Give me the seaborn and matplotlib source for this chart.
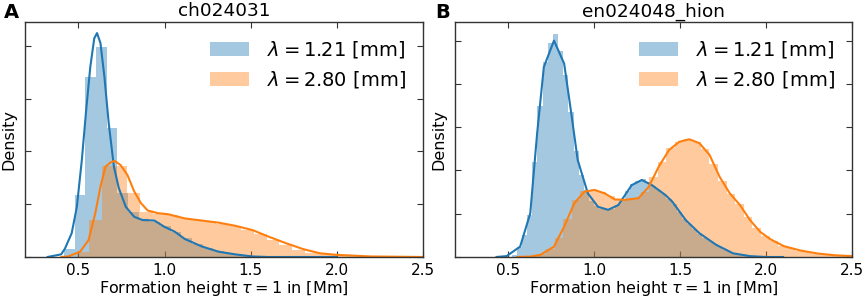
import numpy as np
import pandas as pd
import matplotlib
matplotlib.use("Agg")
import matplotlib.pyplot as plt
from matplotlib.patches import Patch
import seaborn as sns

# ---------------- data ----------------
titles = ["ch024031", "en024048_hion"]
panel_letters = ["A", "B"]
labels = [r"$\lambda = 1.21$ [mm]", r"$\lambda = 2.80$ [mm]"]

# Panel A histograms (bin start, bin width, bar heights)
a_blue_start, a_blue_width = 0.416, 0.062
a_blue_hist = [0.16, 1.17, 3.40, 3.98, 2.44, 1.21, 0.86, 0.72, 0.66, 0.58,
               0.48, 0.36, 0.25, 0.17, 0.11, 0.07, 0.04, 0.02, 0.01]
a_orange_start, a_orange_width = 0.49, 0.0735
a_orange_hist = [0.09, 0.70, 1.73, 1.73, 1.21, 0.86, 0.82, 0.80, 0.74, 0.70,
                 0.67, 0.63, 0.58, 0.52, 0.44, 0.32, 0.22, 0.14, 0.08, 0.05,
                 0.03, 0.02, 0.01, 0.01, 0.005, 0.005, 0.003]

# Panel A KDE curves
a_blue_kde_x = [0.32, 0.40, 0.422, 0.461, 0.491, 0.52, 0.545, 0.569, 0.592, 0.608,
                0.628, 0.651, 0.676, 0.706, 0.735, 0.775, 0.824, 0.873, 0.941, 1.0,
                1.059, 1.118, 1.216, 1.314, 1.41, 1.51, 1.6, 1.8, 2.0]
a_blue_kde_y = [0.0, 0.05, 0.16, 0.45, 0.95, 1.84, 2.78, 3.60, 4.14, 4.24,
                4.05, 3.41, 2.53, 1.71, 1.30, 0.95, 0.76, 0.70, 0.69, 0.57,
                0.48, 0.34, 0.20, 0.10, 0.05, 0.01, 0.0, 0.0, 0.0]
a_orange_kde_x = [0.40, 0.44, 0.51, 0.559, 0.598, 0.628, 0.657, 0.686, 0.71, 0.745,
                  0.785, 0.824, 0.863, 0.902, 0.961, 1.02, 1.118, 1.216, 1.314, 1.412,
                  1.51, 1.608, 1.706, 1.804, 1.902, 2.0, 2.2, 2.5]
a_orange_kde_y = [0.0, 0.01, 0.10, 0.32, 0.83, 1.33, 1.71, 1.79, 1.82, 1.74,
                  1.55, 1.24, 1.02, 0.88, 0.83, 0.81, 0.73, 0.69, 0.65, 0.59,
                  0.51, 0.38, 0.26, 0.15, 0.07, 0.04, 0.01, 0.0]

# Panel B histograms
b_blue_start, b_blue_width = 0.52, 0.03
b_blue_hist = [0.05, 0.22, 0.50, 0.98, 2.20, 3.50, 4.50, 4.95, 5.16, 4.75,
               4.20, 3.35, 2.45, 1.90, 1.55, 1.30, 1.18, 1.12, 1.08, 1.12,
               1.20, 1.35, 1.52, 1.68, 1.76, 1.80, 1.74, 1.64, 1.55, 1.45,
               1.35, 1.22, 1.05, 0.88, 0.76, 0.64, 0.54, 0.45, 0.37, 0.29,
               0.22, 0.16, 0.11, 0.07, 0.05, 0.03, 0.02, 0.01]
b_orange_start, b_orange_width = 0.62, 0.05
b_orange_hist = [0.02, 0.07, 0.18, 0.45, 0.88, 1.32, 1.52, 1.55, 1.50, 1.40,
                 1.32, 1.32, 1.36, 1.50, 1.85, 2.20, 2.52, 2.66, 2.72, 2.66,
                 2.50, 2.15, 1.75, 1.45, 1.22, 0.92, 0.66, 0.48, 0.36, 0.26,
                 0.20, 0.15, 0.11, 0.08, 0.06, 0.04, 0.03, 0.02]

# Panel B KDE curves
b_blue_kde_x = [0.43, 0.49, 0.569, 0.628, 0.668, 0.707, 0.766, 0.825, 0.864, 0.904,
                0.963, 1.022, 1.081, 1.14, 1.218, 1.277, 1.336, 1.415, 1.454, 1.533,
                1.612, 1.71, 1.808, 1.907, 2.0, 2.1]
b_blue_kde_y = [0.0, 0.02, 0.24, 1.01, 2.86, 4.39, 5.00, 4.47, 3.39, 2.24,
                1.47, 1.16, 1.09, 1.20, 1.66, 1.78, 1.66, 1.43, 1.28, 0.85,
                0.55, 0.28, 0.085, 0.02, 0.0, 0.0]
b_orange_kde_x = [0.55, 0.628, 0.687, 0.766, 0.825, 0.884, 0.943, 1.002, 1.061, 1.12,
                  1.179, 1.258, 1.317, 1.376, 1.435, 1.494, 1.553, 1.612, 1.671, 1.73,
                  1.789, 1.848, 1.907, 1.966, 2.025, 2.104, 2.2, 2.3, 2.4, 2.5]
b_orange_kde_y = [0.0, 0.01, 0.05, 0.24, 0.70, 1.24, 1.51, 1.55, 1.47, 1.33,
                  1.32, 1.36, 1.62, 2.09, 2.47, 2.66, 2.72, 2.63, 2.36, 1.85,
                  1.47, 1.20, 0.85, 0.58, 0.41, 0.25, 0.15, 0.08, 0.04, 0.02]

x_ticks = [0.5, 1.0, 1.5, 2.0, 2.5]
x_limits = (0.19, 2.5)
y_tops = [4.45, 5.43]
y_ticks = [[0, 1, 2, 3, 4], [0, 1, 2, 3, 4, 5]]

# ---------------- style ----------------
sns.set_style("ticks")
plt.rcParams.update({
    "font.family": ["DejaVu Sans"],
    "font.size": 11,
    "text.color": "black",
    "axes.labelcolor": "black",
    "axes.titlecolor": "black",
    "xtick.direction": "in",
    "ytick.direction": "in",
    "xtick.top": True,
    "ytick.right": True,
    "xtick.major.size": 4,
    "ytick.major.size": 4,
    "axes.edgecolor": "#333333",
    "xtick.color": "#333333",
    "ytick.color": "#333333",
    "xtick.labelcolor": "black",
    "axes.linewidth": 1.0,
    "mathtext.fontset": "dejavusans",
})

blue = "#1f77b4"
orange = "#ff7f0e"

fig = plt.figure(figsize=(8.65, 2.98), dpi=100)
ax_a = fig.add_axes([0.0289, 0.1376, 0.4601, 0.7886])
ax_b = fig.add_axes([0.526, 0.1376, 0.459, 0.7886])

panels = [
    (ax_a, (a_blue_start, a_blue_width, a_blue_hist), (a_orange_start, a_orange_width, a_orange_hist),
     (a_blue_kde_x, a_blue_kde_y), (a_orange_kde_x, a_orange_kde_y)),
    (ax_b, (b_blue_start, b_blue_width, b_blue_hist), (b_orange_start, b_orange_width, b_orange_hist),
     (b_blue_kde_x, b_blue_kde_y), (b_orange_kde_x, b_orange_kde_y)),
]

for i, (ax, bh, oh, bk, ok) in enumerate(panels):
    for (start, width, heights), col in ((bh, blue), (oh, orange)):
        n = len(heights)
        df = pd.DataFrame({
            "x": start + width * (np.arange(n) + 0.5),
            "w": np.asarray(heights, dtype=float),
        })
        edges = [float(v) for v in (start + width * np.arange(n + 1))]
        sns.histplot(data=df, x="x", weights="w", bins=edges, stat="count",
                     color=col, alpha=0.4, linewidth=0, ax=ax)
    sns.lineplot(x=bk[0], y=bk[1], color=blue, lw=1.5, ax=ax, sort=False)
    sns.lineplot(x=ok[0], y=ok[1], color=orange, lw=1.5, ax=ax, sort=False)

    ax.set_xlim(*x_limits)
    ax.set_ylim(0, y_tops[i])
    ax.set_xticks(x_ticks)
    ax.set_xticklabels([f"{t:.1f}" for t in x_ticks], fontsize=11)
    ax.set_yticks(y_ticks[i])
    ax.set_yticklabels([])
    ax.set_ylabel("Density", fontsize=11.5, labelpad=3, color="black")
    ax.set_xlabel(r"Formation height $\tau = 1$ in [Mm]", fontsize=11.5, labelpad=1, color="black")
    ax.set_title(titles[i], fontsize=13.3, pad=4, color="black")
    ax.tick_params(axis="x", pad=4)
    handles = [Patch(facecolor=blue, alpha=0.4, edgecolor="none"),
               Patch(facecolor=orange, alpha=0.4, edgecolor="none")]
    leg = ax.legend(handles=handles, labels=labels, loc="upper right", frameon=False,
                    fontsize=14, handlelength=2.0, handleheight=0.7, labelspacing=0.45,
                    handletextpad=0.9, borderaxespad=0.5)
    for t in leg.get_texts():
        t.set_color("black")

fig.text(0.005, 0.99, panel_letters[0], fontsize=14, fontweight="bold", va="top", ha="left", color="black")
fig.text(0.503, 0.99, panel_letters[1], fontsize=14, fontweight="bold", va="top", ha="left", color="black")

fig.savefig("out.png", dpi=100)
